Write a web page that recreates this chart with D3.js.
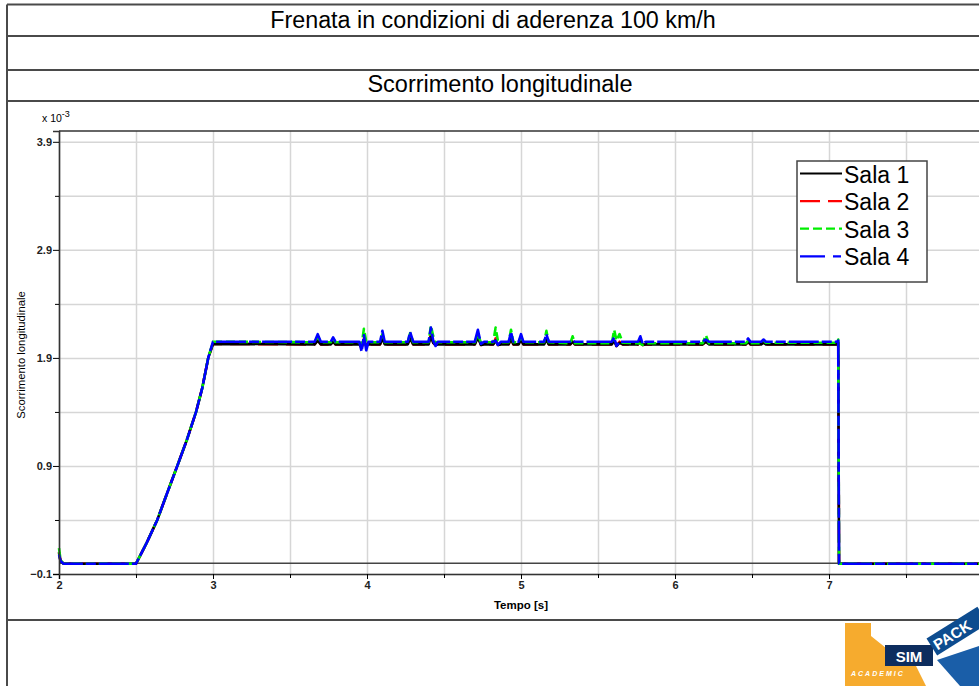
<!DOCTYPE html>
<html>
<head>
<meta charset="utf-8">
<script src="https://cdn.jsdelivr.net/npm/d3@7"></script>
<style>
  body { margin: 0; background: #fff; }
  svg { display: block; font-family: "Liberation Sans", Arial, sans-serif; }
</style>
</head>
<body>
<div id="chart"></div>
<script>
// 1: DATA (values in units of 1e-3)
const time = [
    2.000, 2.010, 2.030, 2.500, 2.570, 2.638, 2.700, 2.768, 2.830, 2.890, 2.930, 2.969, 3.000,
    3.660, 3.680, 3.700, 3.765, 3.780, 3.795, 3.950, 3.965, 3.980, 3.995, 4.010,
    4.085, 4.100, 4.115, 4.265, 4.280, 4.300, 4.400, 4.415, 4.430, 4.445, 4.460,
    4.700, 4.720, 4.740, 4.760, 4.820, 4.835, 4.850, 4.870, 4.920, 4.935, 4.950,
    4.985, 5.000, 5.015, 5.150, 5.165, 5.180, 5.320, 5.335, 5.350, 5.590, 5.605,
    5.620, 5.640, 5.660, 5.760, 5.775, 5.790, 5.810, 6.180, 6.200, 6.220, 6.460,
    6.475, 6.490, 6.560, 6.575, 6.590, 7.050, 7.060, 7.065, 8.200
];
const sala1 = [
    0.10, 0.02, -0.005, -0.005, 0.19, 0.40, 0.64, 0.90, 1.14, 1.40, 1.62, 1.90, 2.03,
    2.025, 2.06, 2.025, 2.025, 2.05, 2.025, 2.025, 2.00, 2.06, 2.01, 2.025,
    2.025, 2.08, 2.025, 2.025, 2.08, 2.025, 2.025, 2.10, 2.04, 2.02, 2.025,
    2.025, 2.09, 2.02, 2.025, 2.025, 2.06, 2.02, 2.025, 2.025, 2.08, 2.025,
    2.025, 2.07, 2.025, 2.025, 2.07, 2.025, 2.025, 2.05, 2.025, 2.025, 2.06,
    2.01, 2.04, 2.025, 2.025, 2.06, 2.02, 2.025, 2.025, 2.05, 2.025, 2.025,
    2.05, 2.025, 2.025, 2.04, 2.025, 2.025, 2.04, -0.005, -0.005
];
const sala2 = [
    0.10, 0.02, -0.005, -0.005, 0.19, 0.40, 0.64, 0.90, 1.14, 1.40, 1.62, 1.90, 2.03,
    2.025, 2.07, 2.025, 2.025, 2.06, 2.025, 2.025, 1.99, 2.08, 2.00, 2.025,
    2.025, 2.10, 2.025, 2.025, 2.09, 2.025, 2.025, 2.12, 2.04, 2.02, 2.025,
    2.025, 2.10, 2.02, 2.025, 2.025, 2.08, 2.02, 2.025, 2.025, 2.09, 2.025,
    2.025, 2.08, 2.025, 2.025, 2.08, 2.025, 2.025, 2.05, 2.025, 2.025, 2.07,
    2.01, 2.05, 2.025, 2.025, 2.06, 2.02, 2.025, 2.025, 2.05, 2.025, 2.025,
    2.05, 2.025, 2.025, 2.04, 2.025, 2.025, 2.04, -0.005, -0.005
];
const sala3 = [
    0.14, 0.03, -0.005, -0.005, 0.19, 0.40, 0.64, 0.90, 1.14, 1.40, 1.62, 1.90, 2.05,
    2.045, 2.10, 2.045, 2.045, 2.08, 2.045, 2.045, 2.02, 2.17, 2.05, 2.045,
    2.045, 2.12, 2.045, 2.045, 2.13, 2.045, 2.045, 2.20, 2.10, 2.04, 2.045,
    2.045, 2.12, 2.04, 2.045, 2.045, 2.18, 2.06, 2.045, 2.045, 2.16, 2.045,
    2.045, 2.10, 2.045, 2.045, 2.15, 2.045, 2.035, 2.10, 2.035, 2.035, 2.16,
    2.06, 2.12, 2.04, 2.035, 2.03, 2.02, 2.035, 2.035, 2.11, 2.035, 2.035,
    2.06, 2.035, 2.035, 2.06, 2.04, 2.04, 2.07, -0.005, -0.005
];
const sala4 = [
    0.08, 0.02, -0.005, -0.005, 0.19, 0.40, 0.64, 0.90, 1.14, 1.40, 1.62, 1.90, 2.05,
    2.05, 2.12, 2.05, 2.05, 2.09, 2.05, 2.05, 1.96, 2.11, 1.97, 2.05,
    2.05, 2.15, 2.05, 2.05, 2.14, 2.05, 2.05, 2.18, 2.06, 2.01, 2.05,
    2.05, 2.16, 2.03, 2.05, 2.05, 2.06, 2.02, 2.05, 2.05, 2.14, 2.05,
    2.05, 2.12, 2.05, 2.05, 2.12, 2.05, 2.05, 2.06, 2.05, 2.05, 2.09,
    2.01, 2.05, 2.05, 2.05, 2.10, 2.03, 2.05, 2.05, 2.07, 2.05, 2.05,
    2.08, 2.05, 2.05, 2.07, 2.05, 2.05, 2.06, -0.005, -0.005
];
const seriesNames = ["Sala 1", "Sala 2", "Sala 3", "Sala 4"];
const xTicks = [2, 3, 4, 5, 6, 7, 8];
const xMinorTicks = [2.5, 3.5, 4.5, 5.5, 6.5, 7.5];
const yTicks = [-0.1, 0.9, 1.9, 2.9, 3.9];
const yMinorTicks = [0.4, 1.4, 2.4, 3.4];

// 2: SETUP
const W = 979, H = 686;
const svg = d3.select("#chart").append("svg")
    .attr("width", W).attr("height", H);

const plot = { left: 59, top: 131, bottom: 574 };
const xScale = d3.scaleLinear().domain([2, 8.2]).range([plot.left, plot.left + 6.2 * 154]);
const yScale = d3.scaleLinear().domain([-0.1, 4.0]).range([plot.bottom, plot.top]);
const innerW = xScale(8.2) - plot.left;
const innerH = plot.bottom - plot.top;

// 3: FRAME (report table)
const frame = svg.append("g").attr("stroke", "#4a4a4a").attr("stroke-width", 2);
[4.5, 36, 70, 101, 620].forEach(y => {
    frame.append("line").attr("x1", 7).attr("x2", W).attr("y1", y).attr("y2", y);
});
frame.append("line").attr("x1", 7).attr("x2", 7).attr("y1", 4.5).attr("y2", H);

svg.append("text")
    .text("Frenata in condizioni di aderenza 100 km/h")
    .attr("x", 493).attr("y", 28)
    .attr("text-anchor", "middle")
    .style("font-size", "23.3px");
svg.append("text")
    .text("Scorrimento longitudinale")
    .attr("x", 500).attr("y", 92)
    .attr("text-anchor", "middle")
    .style("font-size", "23.5px");

// 4: GRID
const g = svg.append("g");
g.append("g")
    .attr("transform", `translate(0,${plot.bottom})`)
    .call(d3.axisBottom(xScale).tickValues(xTicks.concat(xMinorTicks)).tickSize(-innerH).tickFormat(""))
    .call(s => s.select(".domain").remove())
    .call(s => s.selectAll("line").attr("stroke", "#d6d6d6").attr("stroke-width", 1.5));
g.append("g")
    .attr("transform", `translate(${plot.left},0)`)
    .call(d3.axisLeft(yScale).tickValues(yTicks.concat(yMinorTicks)).tickSize(-innerW).tickFormat(""))
    .call(s => s.select(".domain").remove())
    .call(s => s.selectAll("line").attr("stroke", "#d6d6d6").attr("stroke-width", 1.5));

// zero line
g.append("line")
    .attr("x1", plot.left).attr("x2", plot.left + innerW)
    .attr("y1", yScale(0)).attr("y2", yScale(0))
    .attr("stroke", "#444").attr("stroke-width", 1.5);

// 5: LINES
const styles = [
    { color: "#000000", dash: null, plotDash: null },
    { color: "#ff0000", dash: "20,8", plotDash: "20,8" },
    { color: "#00ee00", dash: "9,4", plotDash: "9,4" },
    { color: "#0000ff", dash: "25,8,8,8", plotDash: "30,3,10,3" }
];
const allSeries = [sala1, sala2, sala3, sala4];
const drawOrder = [1, 0, 2, 3]; // red under black, blue on top
const line = d3.line()
    .x((d, i) => xScale(time[i]))
    .y(d => yScale(d));
svg.append("g").selectAll("path")
    .data(drawOrder)
    .enter()
    .append("path")
    .attr("d", k => line(allSeries[k]))
    .attr("fill", "none")
    .attr("stroke", k => styles[k].color)
    .attr("stroke-width", 2.6)
    .attr("stroke-dasharray", k => styles[k].plotDash)
    .attr("stroke-linejoin", "round");

// 6: AXES
svg.append("g")
    .attr("transform", `translate(0,${plot.bottom})`)
    .call(d3.axisBottom(xScale).tickValues(xTicks).tickSize(5).tickPadding(2).tickFormat(d3.format("d")));
svg.append("g")
    .attr("transform", `translate(0,${plot.bottom})`)
    .call(d3.axisBottom(xScale).tickValues(xMinorTicks).tickSize(4).tickFormat(""))
    .call(s => s.select(".domain").remove());
svg.append("g")
    .attr("transform", `translate(${plot.left},0)`)
    .call(d3.axisLeft(yScale).tickValues(yTicks).tickSize(6).tickPadding(1).tickFormat(d3.format(".1f")));
svg.append("g")
    .attr("transform", `translate(${plot.left},0)`)
    .call(d3.axisLeft(yScale).tickValues(yMinorTicks).tickSize(4).tickFormat(""))
    .call(s => s.select(".domain").remove());
svg.selectAll(".domain").attr("stroke", "#333").attr("stroke-width", 1.6);
svg.selectAll(".tick text")
    .attr("fill", "#222")
    .style("font-size", "11px")
    .style("font-weight", "bold")
    .style("font-family", "'Liberation Sans', Arial, sans-serif");

// top border of the plot
svg.append("line")
    .attr("x1", plot.left).attr("x2", W).attr("y1", plot.top).attr("y2", plot.top)
    .attr("stroke", "#333").attr("stroke-width", 1.6);

// 7: LABELS
svg.append("text")
    .text("Tempo [s]")
    .attr("x", 521).attr("y", 609)
    .attr("text-anchor", "middle")
    .style("font-size", "11.5px")
    .style("font-weight", "bold");
svg.append("text")
    .text("Scorrimento longitudinale")
    .attr("transform", "rotate(-90)")
    .attr("x", -355).attr("y", 25)
    .attr("text-anchor", "middle")
    .style("font-size", "11.3px");
const expo = svg.append("text")
    .attr("x", 42).attr("y", 122)
    .style("font-size", "10.5px");
expo.append("tspan").text("x 10");
expo.append("tspan").text("-3").attr("dy", -5).style("font-size", "9px");

// 8: LEGEND
const legendG = svg.append("g").attr("transform", "translate(797,161)");
legendG.append("rect")
    .attr("width", 130).attr("height", 121)
    .attr("fill", "#fff").attr("stroke", "#444").attr("stroke-width", 1.5);
const legend = legendG.selectAll(".legend")
    .data(seriesNames)
    .enter()
    .append("g")
    .attr("class", "legend")
    .attr("transform", (d, i) => `translate(0, ${12.5 + i * 27.6})`);
legend.append("line")
    .attr("x1", 3).attr("x2", 45)
    .attr("stroke", (d, i) => styles[i].color)
    .attr("stroke-width", 2.2)
    .attr("stroke-dasharray", (d, i) => styles[i].dash);
legend.append("text")
    .text(d => d)
    .attr("x", 47).attr("y", 9)
    .style("font-size", "23px");

// 9: LOGO (SIMPACK academic)
const logo = svg.append("g");
logo.append("path")
    .attr("d", "M845,623 L871,623 L871,636 L886,648 L886,666 L916,666 L926,686 L845,686 Z")
    .attr("fill", "#f6ab2e");
logo.append("rect").attr("x", 885).attr("y", 645).attr("width", 48).attr("height", 21).attr("fill", "#0d2d5e");
logo.append("text").text("SIM")
    .attr("x", 909).attr("y", 662).attr("text-anchor", "middle")
    .attr("fill", "#fff").style("font-size", "15px").style("font-weight", "bold");
logo.append("text").text("ACADEMIC")
    .attr("x", 851).attr("y", 676)
    .attr("fill", "#fff").style("font-size", "7px").style("font-style", "italic")
    .style("letter-spacing", "2px").style("font-weight", "bold");
logo.append("path")
    .attr("d", "M937,660 L979,646 L979,686 L960,686 Z")
    .attr("fill", "#1a5ea8");
logo.append("g")
    .attr("transform", "translate(935,652) rotate(-32)")
    .call(s => {
        s.append("rect").attr("x", 0).attr("y", -16).attr("width", 60).attr("height", 20).attr("fill", "#0d4c8f");
        s.append("text").text("PACK").attr("x", 3).attr("y", 0)
            .attr("fill", "#fff").style("font-size", "15px").style("font-weight", "bold");
    });
</script>
</body>
</html>
